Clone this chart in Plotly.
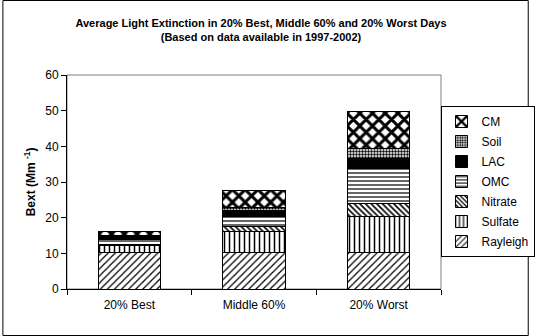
import plotly.graph_objects as go

categories = ["20% Best", "Middle 60%", "20% Worst"]
components = ["Rayleigh", "Sulfate", "Nitrate", "OMC", "LAC", "Soil", "CM"]
rayleigh = [10.2, 10.2, 10.2]
sulfate = [2.0, 5.9, 10.1]
nitrate = [0.4, 1.4, 3.8]
omc = [1.2, 2.9, 9.7]
lac = [0.9, 1.7, 2.8]
soil = [0.2, 0.8, 2.8]
cm = [1.3, 4.8, 10.5]
y_ticks = [0, 10, 20, 30, 40, 50, 60]

series = [rayleigh, sulfate, nitrate, omc, lac, soil, cm]
patterns = [
    dict(shape="/", size=5, solidity=0.25),
    dict(shape="|", size=5, solidity=0.3),
    dict(shape="\\", size=4, solidity=0.4),
    dict(shape="-", size=4, solidity=0.3),
    None,
    dict(shape=".", size=3, solidity=0.5),
    dict(shape="x", size=9, solidity=0.55),
]

FONT = "Arial, Liberation Sans, sans-serif"
fig = go.Figure()
n = len(components)
for i, (name, vals, pat) in enumerate(zip(components, series, patterns)):
    if pat is None:
        marker = dict(color="black", line=dict(color="black", width=1))
    else:
        p = dict(pat)
        p.update(fgcolor="black", bgcolor="white", fillmode="replace")
        marker = dict(color="white", pattern=p, line=dict(color="black", width=1))
    fig.add_trace(go.Bar(x=categories, y=vals, name=name, marker=marker,
                         width=0.5, legendgroup=name, legendrank=n - i))

L, R, T, B = 67, 91, 75, 47
W, H = 546, 336
pw, ph = W - L - R, H - T - B

fig.update_layout(
    width=W, height=H, barmode="stack",
    margin=dict(l=L, r=R, t=T, b=B, pad=0),
    paper_bgcolor="white", plot_bgcolor="white",
    font=dict(family=FONT, size=12, color="black"),
    title=dict(
        text="<b>Average Light Extinction in 20% Best, Middle 60% and 20% Worst Days<br>(Based on data available in 1997-2002)</b>",
        x=(L + pw / 2) / W, xanchor="center", y=1 - 27 / H, yanchor="top",
        font=dict(size=11, family=FONT, color="black"),
    ),
    xaxis=dict(showline=True, linecolor="black", linewidth=1, ticks="outside",
               tickson="boundaries", ticklen=5, tickcolor="black",
               showgrid=False, tickfont=dict(size=12), ticklabelstandoff=5),
    yaxis=dict(range=[0, 60], tickvals=y_ticks, showline=True, linecolor="black",
               linewidth=1, ticks="outside", ticklen=5, tickcolor="black",
               showgrid=False, zeroline=False, tickfont=dict(size=12)),
    annotations=[
        dict(text="<b>Bext (Mm <sup>-1</sup>)</b>", xref="paper", yref="paper",
             x=(29 - L) / pw, y=0.5, xanchor="center", yanchor="middle",
             textangle=-90, showarrow=False, font=dict(size=12, family=FONT)),
    ],
    legend=dict(x=(552 - L) / pw, y=(289 - 106) / ph, xanchor="right", yanchor="top",
                traceorder="grouped", tracegroupgap=1,
                bordercolor="black", borderwidth=1, bgcolor="white",
                font=dict(size=12), itemwidth=30),
    bargap=0.5,
    shapes=[
        dict(type="rect", xref="paper", yref="paper", x0=0, x1=1, y0=0, y1=1,
             line=dict(color="#808080", width=1), layer="below"),
        dict(type="rect", xref="paper", yref="paper",
             x0=-(L - 0.5) / pw, x1=(W - L - 0.5) / pw,
             y0=-(B - 0.5) / ph, y1=(H - B - 0.5) / ph,
             line=dict(color="black", width=1), layer="above"),
    ],
)

fig.write_html("out.html")
